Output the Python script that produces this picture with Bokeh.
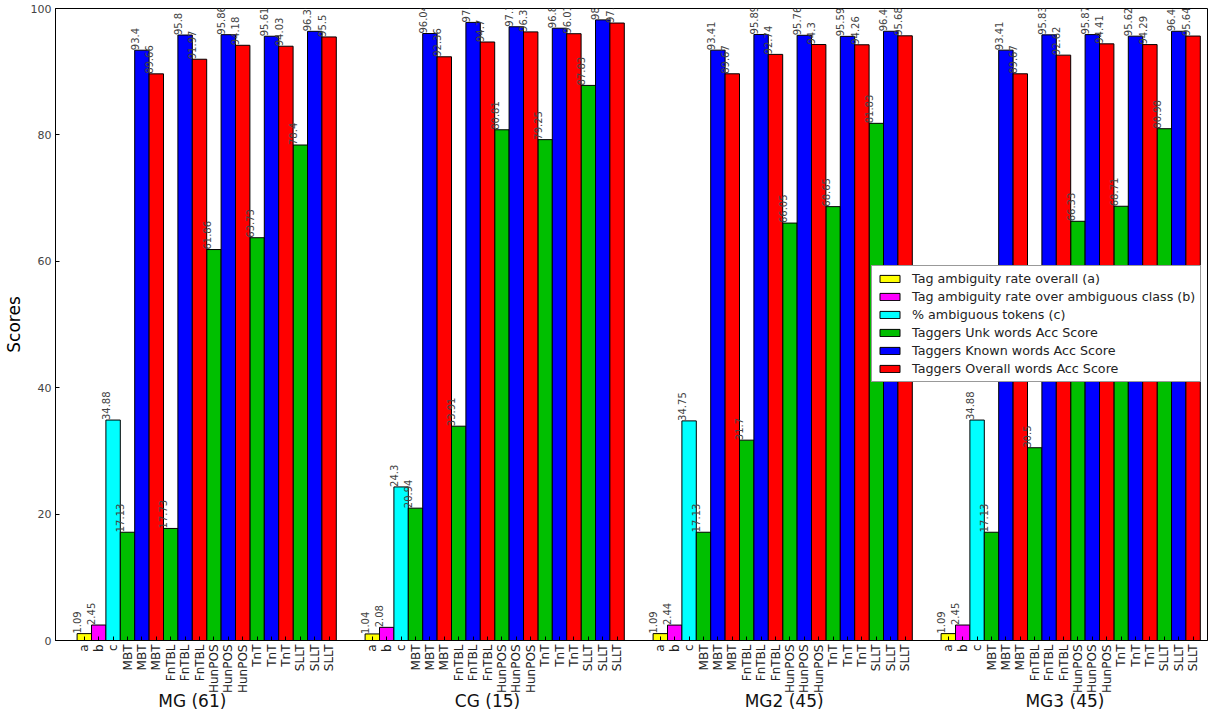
import math
from bokeh.plotting import figure
from bokeh.models import (ColumnDataSource, Range1d, FixedTicker, LinearAxis,
                          SingleIntervalTicker, Legend, LegendItem, LabelSet)
from bokeh.core.properties import value
from bokeh.embed import file_html
from bokeh.resources import INLINE

# ---------------- data ----------------
groups = ["MG (61)", "CG (15)", "MG2 (45)", "MG3 (45)"]
bar_labels = ["a", "b", "c",
              "MBT", "MBT", "MBT",
              "FnTBL", "FnTBL", "FnTBL",
              "HunPOS", "HunPOS", "HunPOS",
              "TnT", "TnT", "TnT",
              "SLLT", "SLLT", "SLLT"]
taggers = ["MBT", "FnTBL", "HunPOS", "TnT", "SLLT"]

amb_a = [1.09, 1.04, 1.09, 1.09]
amb_b = [2.45, 2.08, 2.44, 2.45]
amb_c = [34.88, 24.3, 34.75, 34.88]

unk_mg = [17.13, 17.73, 61.86, 63.73, 78.4]
unk_cg = [20.94, 33.91, 80.81, 79.25, 87.83]
unk_mg2 = [17.13, 31.7, 66.05, 68.65, 81.83]
unk_mg3 = [17.13, 30.5, 66.33, 68.71, 80.98]

known_mg = [93.4, 95.8, 95.86, 95.61, 96.39]
known_cg = [96.04, 97.8, 97.11, 96.88, 98.2]
known_mg2 = [93.41, 95.89, 95.76, 95.59, 96.4]
known_mg3 = [93.41, 95.83, 95.87, 95.62, 96.4]

overall_mg = [89.66, 91.97, 94.18, 94.03, 95.5]
overall_cg = [92.36, 94.7, 96.3, 96.01, 97.7]
overall_mg2 = [89.67, 92.74, 94.3, 94.26, 95.68]
overall_mg3 = [89.67, 92.62, 94.41, 94.29, 95.64]

unk = [unk_mg, unk_cg, unk_mg2, unk_mg3]
known = [known_mg, known_cg, known_mg2, known_mg3]
overall = [overall_mg, overall_cg, overall_mg2, overall_mg3]

series_names = ["Tag ambiguity rate overall (a)",
                "Tag ambiguity rate over ambiguous class (b)",
                "% ambiguous tokens (c)",
                "Taggers Unk words Acc Score",
                "Taggers Known words Acc Score",
                "Taggers Overall words Acc Score"]
series_colors = ["#ffff00", "#ff00ff", "#00ffff", "#00bf00", "#0000ff", "#ff0000"]

GROUP_STEP = 20  # 18 bars + 2 gap slots per group
GROUP_LABEL_OFFSET = [8.0, 8.5, 9.1, 8.6]  # where each group caption sits in its group
FONT = "DejaVu Sans"

# ---------------- build per-series sources ----------------
def series_source(slot_fn, values_fn):
    xs, tops, left, txt = [], [], [], []
    for g in range(len(groups)):
        for slot, v in zip(slot_fn(g), values_fn(g)):
            left_edge = g * GROUP_STEP + slot
            xs.append(left_edge + 0.5)
            left.append(left_edge)
            tops.append(v)
            txt.append(str(v))
    return ColumnDataSource(dict(x=xs, top=tops, left=left, txt=txt))

sources = [
    series_source(lambda g: [0], lambda g: [amb_a[g]]),
    series_source(lambda g: [1], lambda g: [amb_b[g]]),
    series_source(lambda g: [2], lambda g: [amb_c[g]]),
    series_source(lambda g: [3 + 3 * k for k in range(len(taggers))], lambda g: unk[g]),
    series_source(lambda g: [4 + 3 * k for k in range(len(taggers))], lambda g: known[g]),
    series_source(lambda g: [5 + 3 * k for k in range(len(taggers))], lambda g: overall[g]),
]

# ---------------- figure ----------------
p = figure(width=1211, height=713, output_backend="svg", toolbar_location=None,
           x_range=Range1d(-1.5, GROUP_STEP * 3 + len(bar_labels) + 0.5),
           y_range=Range1d(0, 100),
           min_border_left=53, min_border_right=4, min_border_top=8,
           min_border_bottom=60)
p.background_fill_color = "white"
p.border_fill_color = "white"
p.outline_line_color = "black"
p.grid.visible = False

legend_items = []
for src, name, col in zip(sources, series_names, series_colors):
    r = p.vbar(x="x", top="top", bottom=0, width=1.0, source=src,
               fill_color=col, line_color="black", line_width=1)
    legend_items.append(LegendItem(label=name, renderers=[r]))

for src in sources:
    labels = LabelSet(x="left", y="top", text="txt", source=src, angle=math.pi / 2,
                      text_align="left", text_baseline="middle",
                      text_font=value(FONT), text_font_size=value("10px"),
                      text_color=value("#444444"))
    p.add_layout(labels)

# x axis: bar labels
tick_pos = []
overrides = {}
for g in range(len(groups)):
    for j, lab in enumerate(bar_labels):
        pos = g * GROUP_STEP + j + 0.5
        tick_pos.append(pos)
        overrides[pos] = lab
xa = p.xaxis[0]
xa.ticker = FixedTicker(ticks=tick_pos)
xa.major_label_overrides = overrides
xa.major_label_orientation = math.pi / 2
xa.major_label_text_font = FONT
xa.major_label_text_font_size = "12px"
xa.major_label_text_color = "#222222"
xa.major_label_standoff = 4
xa.major_tick_in = 4
xa.major_tick_out = 0
xa.minor_tick_line_color = None
xa.minor_tick_out = 0
xa.axis_line_color = "black"

# group labels axis
group_pos = [g * GROUP_STEP + off for g, off in zip(range(len(groups)), GROUP_LABEL_OFFSET)]
ga = LinearAxis(ticker=FixedTicker(ticks=group_pos),
                major_label_overrides={pos: name for pos, name in zip(group_pos, groups)})
ga.major_label_text_font = FONT
ga.major_label_text_font_size = "17px"
ga.major_label_text_color = "#111111"
ga.major_label_standoff = -6
ga.major_tick_line_color = None
ga.major_tick_in = 0
ga.major_tick_out = 0
ga.minor_tick_line_color = None
ga.minor_tick_in = 0
ga.minor_tick_out = 0
ga.axis_line_color = None
p.add_layout(ga, "below")

# y axis
ya = p.yaxis[0]
ya.ticker = SingleIntervalTicker(interval=20)
ya.axis_label = "Scores"
ya.axis_label_text_font = FONT
ya.axis_label_text_font_size = "17px"
ya.axis_label_text_font_style = "normal"
ya.axis_label_text_color = "black"
ya.axis_label_standoff = 4
ya.major_label_text_font = FONT
ya.major_label_text_font_size = "11px"
ya.major_label_text_color = "#444444"
ya.major_label_standoff = 4
ya.major_tick_in = 4
ya.major_tick_out = 0
ya.minor_tick_line_color = None
ya.minor_tick_out = 0
ya.axis_line_color = "black"

legend = Legend(items=legend_items, location=(816, 258))
legend.label_text_font = FONT
legend.label_text_font_size = "12.7px"
legend.label_text_color = "#222222"
legend.glyph_width = 25
legend.glyph_height = 9
legend.label_height = 14
legend.spacing = 3
legend.padding = 5
legend.margin = 0
legend.label_standoff = 10
legend.border_line_color = "#333333"
legend.background_fill_color = "white"
legend.background_fill_alpha = 1.0
p.add_layout(legend, "center")

open("out.html", "w").write(file_html(p, INLINE))
